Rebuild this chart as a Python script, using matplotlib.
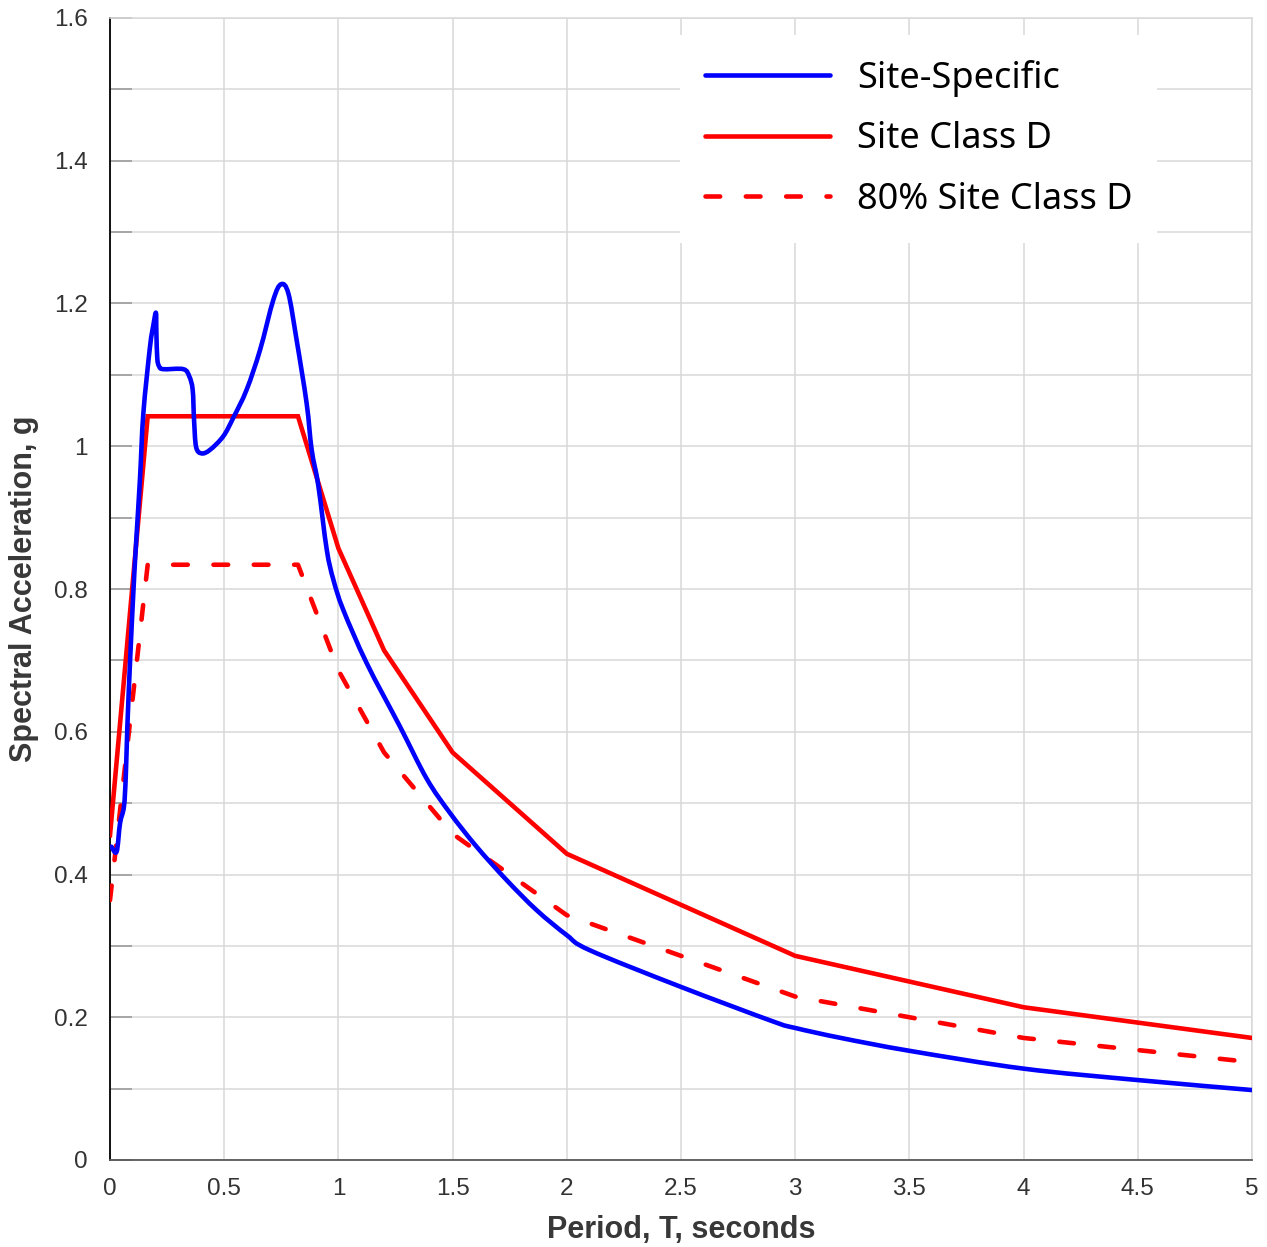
import matplotlib
matplotlib.use("Agg")
import matplotlib.pyplot as plt
import numpy as np
from matplotlib.ticker import MultipleLocator, FuncFormatter
from matplotlib.path import Path
from matplotlib.patches import PathPatch
from matplotlib.lines import Line2D

# ---------------- data ----------------
site_T = [0.006, 0.029, 0.044, 0.061, 0.069, 0.076, 0.088, 0.102, 0.113, 0.131,
          0.146, 0.175, 0.190, 0.201, 0.203, 0.207, 0.215, 0.233, 0.321, 0.347,
          0.362, 0.368, 0.377, 0.401, 0.438, 0.496, 0.540, 0.598, 0.657, 0.715,
          0.749, 0.781, 0.817, 0.861, 0.883, 0.912, 0.949, 0.978, 1.021, 1.124,
          1.270, 1.387, 1.489, 1.605, 1.737, 1.868, 2.000, 2.100, 2.496,
          2.904, 3.000, 3.200, 3.500, 4.000, 4.500, 5.000]
site_Sa = [0.439, 0.432, 0.472, 0.495, 0.537, 0.607, 0.700, 0.794, 0.858, 0.953,
           1.046, 1.139, 1.170, 1.187, 1.160, 1.123, 1.112, 1.108, 1.108, 1.098,
           1.079, 1.037, 0.999, 0.990, 0.995, 1.014, 1.040, 1.079, 1.135, 1.205,
           1.227, 1.214, 1.149, 1.060, 0.995, 0.945, 0.855, 0.813, 0.771, 0.696,
           0.607, 0.534, 0.486, 0.439, 0.392, 0.350, 0.315, 0.294, 0.243,
           0.194, 0.185, 0.171, 0.153, 0.128, 0.112, 0.098]

classD_T = [0.0, 0.165, 0.823, 1.0, 1.2, 1.5, 2.0, 3.0, 4.0, 5.0]
classD_Sa = [0.455, 1.042, 1.042, 0.857, 0.714, 0.571, 0.429, 0.286, 0.214, 0.171]
classD80_Sa = [0.364, 0.834, 0.834, 0.686, 0.571, 0.457, 0.343, 0.229, 0.171, 0.137]

labels = ["Site-Specific", "Site Class D", "80% Site Class D"]

BLUE = "#0000ff"
RED = "#ff0000"

# ---------------- figure ----------------
W, H = 1267, 1247
fig = plt.figure(figsize=(W / 100, H / 100), dpi=100)
ax = fig.add_axes([110 / W, 1 - 1160 / H, 1142 / W, 1142 / H])

ax.set_xlim(0, 5)
ax.set_ylim(0, 1.6)

grid_c = "#d9d9d9"
ax.xaxis.set_major_locator(MultipleLocator(0.5))
ax.yaxis.set_major_locator(MultipleLocator(0.2))
ax.yaxis.set_minor_locator(MultipleLocator(0.1))
ax.grid(True, which="both", color=grid_c, linewidth=1.1, zorder=0)


def fmt(v, pos):
    s = f"{v:.1f}"
    if s.endswith(".0"):
        s = s[:-2]
    return s


ax.xaxis.set_major_formatter(FuncFormatter(fmt))
ax.yaxis.set_major_formatter(FuncFormatter(fmt))

ax.tick_params(axis="x", which="both", length=0, pad=13, labelsize=17.5,
               labelcolor="#333333")
ax.tick_params(axis="y", which="both", direction="in", length=16, width=1.4,
               color="#a6a6a6", pad=16, labelsize=17.5, labelcolor="#333333")
for t in ax.get_xticklabels() + ax.get_yticklabels():
    t.set_fontfamily(["Liberation Sans", "DejaVu Sans"])

for s in ["top", "right"]:
    ax.spines[s].set_color(grid_c)
    ax.spines[s].set_linewidth(1.1)
ax.spines["left"].set_color("#000000")
ax.spines["left"].set_linewidth(1.3)
ax.spines["bottom"].set_color("#595959")
ax.spines["bottom"].set_linewidth(1.3)

lw = 3.3

# smoothed site-specific curve (Catmull-Rom -> cubic Bezier, data coords)
P = np.column_stack([site_T, site_Sa])
n = len(P)
verts = [tuple(P[0])]
codes = [Path.MOVETO]
for i in range(n - 1):
    p0 = P[i - 1] if i > 0 else P[i]
    p1 = P[i]
    p2 = P[i + 1]
    p3 = P[i + 2] if i + 2 < n else P[i + 1]
    c1 = p1 + (p2 - p0) / 6.0
    c2 = p2 - (p3 - p1) / 6.0
    verts += [tuple(c1), tuple(c2), tuple(p2)]
    codes += [Path.CURVE4] * 3
site_path = PathPatch(Path(verts, codes), facecolor="none", edgecolor=BLUE,
                      lw=lw, joinstyle="round", capstyle="round", zorder=4,
                      transform=ax.transData)
ax.add_patch(site_path)

ax.plot(classD_T, classD_Sa, color=RED, lw=lw, zorder=3,
        solid_joinstyle="miter")
ax.plot(classD_T, classD80_Sa, color=RED, lw=lw, zorder=3,
        dashes=(3.2, 5.6), dash_capstyle="round")

handles = [
    Line2D([], [], color=BLUE, lw=lw, solid_capstyle="round"),
    Line2D([], [], color=RED, lw=lw, solid_capstyle="round"),
    Line2D([], [], color=RED, lw=lw, dashes=(3.2, 5.6), dash_capstyle="round"),
]

ax.set_xlabel("Period, T, seconds", fontsize=22, fontweight="bold",
              color="#383838", family=["Liberation Sans", "DejaVu Sans"], labelpad=11)
ax.set_ylabel("Spectral Acceleration, g", fontsize=22, fontweight="bold",
              color="#383838", family=["Liberation Sans", "DejaVu Sans"], labelpad=11)

leg = ax.legend(handles, labels, loc="upper left",
                bbox_to_anchor=((680 - 110) / 1142, (1160 - 35) / 1142),
                prop={"family": ["Noto Sans", "DejaVu Sans"], "size": 26},
                frameon=True, fancybox=False, framealpha=1.0,
                facecolor="white", edgecolor="none",
                handlelength=3.46, handletextpad=0.75, labelspacing=0.68,
                borderpad=0.69, borderaxespad=0)
leg.set_zorder(10)
for t in leg.get_texts():
    t.set_color("#000000")

fig.savefig("out.png", dpi=100)
